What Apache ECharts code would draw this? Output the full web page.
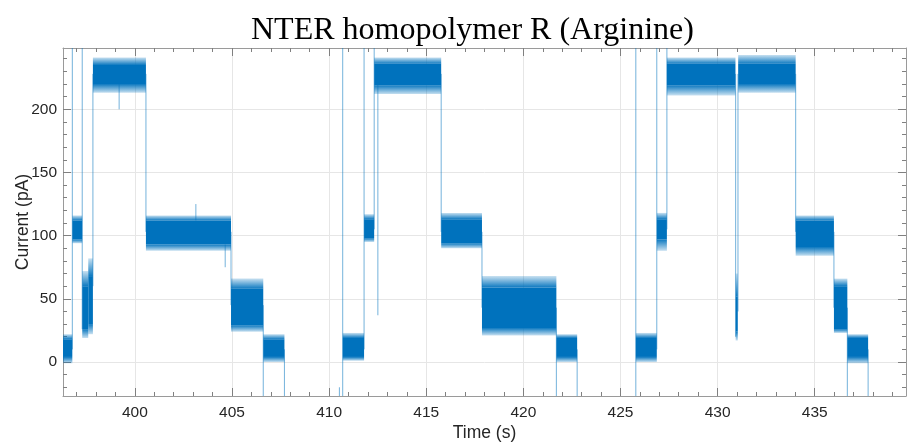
<!DOCTYPE html>
<html><head><meta charset="utf-8">
<script src="https://cdn.jsdelivr.net/npm/echarts@6/dist/echarts.min.js"></script>
<style>html,body{margin:0;padding:0;background:#fff}#c{width:907px;height:445px}</style>
</head><body><div id="c"></div>
<script>
// ---- plateau segments (time in s, current in pA) ----
const segStart  = [396.30, 396.78, 397.29, 397.60, 397.84, 400.57, 404.95, 406.61, 410.70, 411.80, 412.32, 415.77, 417.87, 421.70, 425.79, 426.87, 427.39, 430.93, 431.06, 434.02, 435.99, 436.68];
const segEnd    = [396.78, 397.29, 397.60, 397.84, 400.57, 404.95, 406.61, 407.70, 411.80, 412.32, 415.77, 417.87, 421.70, 422.77, 426.87, 427.39, 430.92, 431.04, 434.02, 435.99, 436.68, 437.75];
const coreLow   = [4, 97, 26, 30, 220, 93, 29, 4, 4, 98, 219, 94, 27, 4, 4, 97, 219, 24, 220, 91, 26, 4];
const coreHigh  = [18, 112, 60, 68, 235, 112, 58, 18, 19, 113, 236, 113, 59, 19, 19, 113, 236, 52, 236, 112, 60, 19];
const peakLow   = [-1, 94, 19, 22, 213, 88, 24, 0, 1, 95, 212, 90, 21, 0, 0, 88, 211, 17, 213, 84, 23, -1];
const peakHigh  = [22, 116, 72, 82, 241, 116, 66, 22, 23, 117, 241, 118, 68, 22, 23, 118, 241, 70, 243, 116, 66, 22];

// ---- transitions / spikes: vertical excursions of the trace ----
const jumpTime = [396.78, 397.29, 397.84, 399.19, 400.57, 403.14, 404.65, 404.95, 406.61, 407.70, 410.53, 410.70, 411.80, 412.32, 412.51, 415.77, 417.87, 421.70, 422.77, 425.79, 426.87, 427.39, 430.93, 431.05, 434.02, 435.99, 436.68, 437.75];
const jumpFrom = [10, 26, 60, 200, 103, 112, 75, 45, -60, -60, -60, -60, 10, 105, 37, 103, 43, -60, -60, -60, 10, 105, 20, 40, 103, 43, -60, -60];
const jumpTo   = [300, 300, 228, 220, 228, 125, 93, 103, 45, 10, -20, 300, 300, 300, 228, 228, 103, 43, 10, 300, 300, 300, 228, 228, 228, 103, 43, 10];

// ---- axes ----
const xMin = 396.3, xMax = 439.7, yMin = -26.9, yMax = 248.5;
const xMajorTicks = [400, 405, 410, 415, 420, 425, 430, 435];
const xMinorTicks = [397, 398, 399, 401, 402, 403, 404, 406, 407, 408, 409, 411, 412, 413, 414, 416, 417, 418, 419, 421, 422, 423, 424, 426, 427, 428, 429, 431, 432, 433, 434, 436, 437, 438, 439];
const yMajorTicks = [0, 50, 100, 150, 200];
const yMinorTicks = [-20, -10, 10, 20, 30, 40, 60, 70, 80, 90, 110, 120, 130, 140, 160, 170, 180, 190, 210, 220, 230, 240];

const axisColor = '#9a9a9a';
const labelFont = 'Liberation Sans, Arial, Helvetica, sans-serif';
const traceColor = '#0072BD';

function makeAxis(dim, gridIndex, position, ticks, len, opts) {
  opts = opts || {};
  const isX = dim === 'x';
  return {
    type: 'value', gridIndex, position,
    min: isX ? xMin : yMin, max: isX ? xMax : yMax,
    axisLine: { show: !!opts.line, onZero: false, lineStyle: { color: axisColor, width: 1 } },
    axisTick: { show: true, inside: true, length: len, customValues: ticks, lineStyle: { color: '#808080', width: 1 } },
    axisLabel: opts.label ? { show: true, customValues: ticks, color: '#262626', fontSize: 15.5, fontFamily: labelFont, margin: isX ? 9 : 6 } : { show: false },
    splitLine: { show: !!opts.split, lineStyle: { color: '#e6e6e6', width: 1 } },
    name: opts.name || '', nameLocation: 'middle', nameGap: opts.nameGap || 0, nameMoveOverlap: false,
    nameTextStyle: { color: '#262626', fontSize: 17.5, fontFamily: labelFont },
    z: 0
  };
}

const gridBox = { left: 63, right: 1, top: 48, bottom: 49, containLabel: false, outerBoundsMode: 'none' };

const bandData = segStart.map((s, i) => [s, segEnd[i], coreLow[i], coreHigh[i], peakLow[i], peakHigh[i]]);
const jumpData = jumpTime.map((t, i) => [t, jumpFrom[i], jumpTo[i]]);

function fade(topStrong) {
  const strong = 'rgba(0,114,189,0.95)', weak = 'rgba(0,114,189,0.22)';
  return new echarts.graphic.LinearGradient(0, 0, 0, 1, [
    { offset: 0, color: topStrong ? strong : weak },
    { offset: 1, color: topStrong ? weak : strong }
  ]);
}

function renderBand(params, api) {
  const t0 = api.value(0), t1 = api.value(1);
  const cl = api.value(2), ch = api.value(3), pl = api.value(4), ph = api.value(5);
  const a = api.coord([t0, ph]), b = api.coord([t1, pl]);
  const ca = api.coord([t0, ch]), cb = api.coord([t1, cl]);
  const x = a[0], w = Math.max(b[0] - a[0], 1);
  return { type: 'group', children: [
    { type: 'rect', shape: { x, y: a[1], width: w, height: ca[1] - a[1] }, style: { fill: fade(false) } },
    { type: 'rect', shape: { x, y: cb[1], width: w, height: b[1] - cb[1] }, style: { fill: fade(true) } },
    { type: 'rect', shape: { x, y: ca[1], width: w, height: cb[1] - ca[1] }, style: { fill: traceColor } }
  ]};
}

function renderJump(params, api) {
  const cs = params.coordSys;
  const p1 = api.coord([api.value(0), api.value(1)]);
  const p2 = api.coord([api.value(0), api.value(2)]);
  const clampY = v => Math.min(Math.max(v, cs.y), cs.y + cs.height);
  return { type: 'line', shape: { x1: p1[0], y1: clampY(p1[1]), x2: p2[0], y2: clampY(p2[1]) },
    style: { stroke: 'rgba(0,114,189,0.55)', lineWidth: 1 } };
}

const chart = echarts.init(document.getElementById('c'), null, { renderer: 'canvas' });
chart.setOption({
  animation: false,
  backgroundColor: '#ffffff',
  title: {
    text: 'NTER homopolymer R (Arginine)', left: 246, top: 10,
    textStyle: { fontFamily: 'Liberation Serif, Times New Roman, serif', fontWeight: 'normal', fontSize: 32, color: '#000' }
  },
  grid: [gridBox, Object.assign({}, gridBox)],
  xAxis: [
    makeAxis('x', 0, 'bottom', xMajorTicks, 8, { line: true, label: true, split: true, name: 'Time (s)', nameGap: 28 }),
    makeAxis('x', 0, 'top', xMajorTicks, 8, { line: true }),
    makeAxis('x', 1, 'bottom', xMinorTicks, 4, {}),
    makeAxis('x', 1, 'top', xMinorTicks, 4, {})
  ],
  yAxis: [
    makeAxis('y', 0, 'left', yMajorTicks, 8, { line: true, label: true, split: true, name: 'Current (pA)', nameGap: 31 }),
    makeAxis('y', 0, 'right', yMajorTicks, 8, { line: true }),
    makeAxis('y', 1, 'left', yMinorTicks, 4, {}),
    makeAxis('y', 1, 'right', yMinorTicks, 4, {})
  ],
  series: [
    { type: 'custom', name: 'jumps', xAxisIndex: 0, yAxisIndex: 0, renderItem: renderJump, data: jumpData,
      encode: { x: 0, y: [1, 2] }, silent: true, z: 2 },
    { type: 'custom', name: 'plateaus', xAxisIndex: 0, yAxisIndex: 0, renderItem: renderBand, data: bandData,
      encode: { x: [0, 1], y: [2, 3, 4, 5] }, silent: true, z: 3 }
  ]
});
</script>
</body></html>
